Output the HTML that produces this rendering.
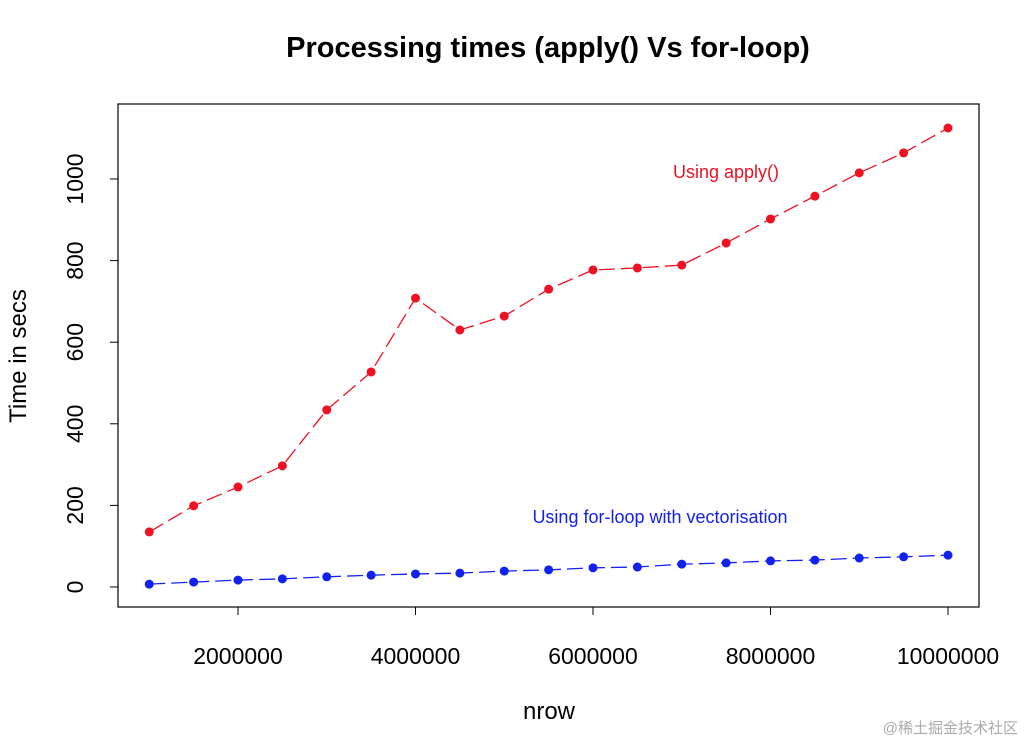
<!DOCTYPE html>
<html><head><meta charset="utf-8"><style>
body{margin:0;background:#fff;width:1024px;height:744px;overflow:hidden}
svg text{font-family:"Liberation Sans",Arial,sans-serif}
</style></head><body>
<svg id="chart" width="1024" height="744">
<text x="548" y="57" text-anchor="middle" font-size="29" font-weight="bold">Processing times (apply() Vs for-loop)</text>
<rect x="118" y="104" width="861" height="503" fill="none" stroke="#000" stroke-width="1.2"/>
<g id="xaxis"></g>
<g id="yaxis"></g>
<text x="549" y="719" text-anchor="middle" font-size="24">nrow</text>
<text transform="translate(26,356) rotate(-90)" text-anchor="middle" font-size="24">Time in secs</text>
<text x="726" y="178" text-anchor="middle" font-size="18" fill="#ee1122">Using apply()</text>
<text x="660" y="523" text-anchor="middle" font-size="18" fill="#1122ee">Using for-loop with vectorisation</text>
<g id="series"></g>
<text x="1018" y="733" text-anchor="end" font-size="15" fill="#aaa" font-family="Liberation Sans, Noto Sans CJK SC, sans-serif">@稀土掘金技术社区</text>
</svg>
<script>
const nrow=[1e6,1.5e6,2e6,2.5e6,3e6,3.5e6,4e6,4.5e6,5e6,5.5e6,6e6,6.5e6,7e6,7.5e6,8e6,8.5e6,9e6,9.5e6,1e7];
const applyTimes=[135,199,245,297,434,527,708,630,664,730,777,782,789,843,902,958,1015,1064,1125];
const loopTimes=[7,12,17,20,25,29,32,34,39,42,47,49,56,59,64,66,71,74,78];
const xTicks=[2000000,4000000,6000000,8000000,10000000];
const yTicks=[0,200,400,600,800,1000];
const NS="http://www.w3.org/2000/svg";
const xs=v=>238+(v-2e6)*710/8e6;
const ys=v=>587-v*0.408;
function mk(tag,attrs,parent){const e=document.createElementNS(NS,tag);for(const k in attrs)e.setAttribute(k,attrs[k]);parent.appendChild(e);return e;}
const xa=document.getElementById('xaxis'),ya=document.getElementById('yaxis'),sg=document.getElementById('series');
mk('line',{x1:xs(xTicks[0]),x2:xs(xTicks[xTicks.length-1]),y1:607,y2:607,stroke:'#000'},xa);
xTicks.forEach(t=>{mk('line',{x1:xs(t),x2:xs(t),y1:607,y2:615,stroke:'#000'},xa);
const tx=mk('text',{x:xs(t),y:664,'text-anchor':'middle','font-size':'23'},xa);tx.textContent=t;

});
mk('line',{x1:118,x2:118,y1:ys(0),y2:ys(1000),stroke:'#000'},ya);
yTicks.forEach(t=>{mk('line',{x1:110,x2:118,y1:ys(t),y2:ys(t),stroke:'#000'},ya);
const tx=mk('text',{transform:`translate(83,${ys(t)}) rotate(-90)`,'text-anchor':'middle','font-size':'23'},ya);tx.textContent=t;

});
function series(vals,color,name){
const g=mk('g',{},sg);


mk('polyline',{points:vals.map((v,i)=>xs(nrow[i])+','+ys(v)).join(' '),fill:'none',stroke:color,'stroke-width':1.3,'stroke-dasharray':'16 6'},g);
vals.forEach((v,i)=>{const c=mk('circle',{cx:xs(nrow[i]),cy:ys(v),r:4.5,fill:color},g);

});}
series(applyTimes,'#ee1122','apply-series');
series(loopTimes,'#1122ee','forloop-series');
</script>
</body></html>
